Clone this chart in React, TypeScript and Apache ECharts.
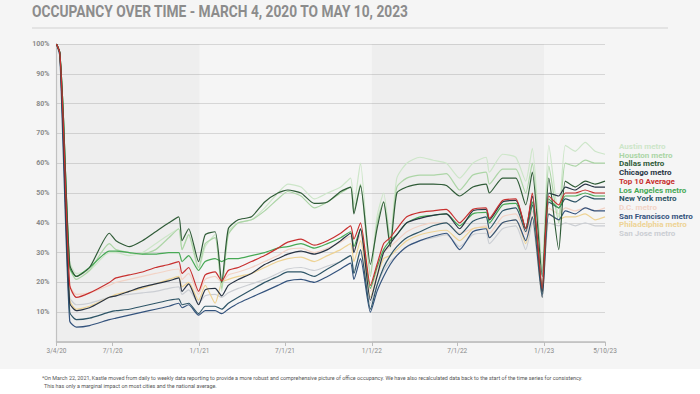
import React, { useEffect, useRef } from "react";
import * as echarts from "echarts";

const TITLE = "OCCUPANCY OVER TIME - MARCH 4, 2020 TO MAY 10, 2023";
const FOOT1 =
  "*On March 22, 2021, Kastle moved from daily to weekly data reporting to provide a more robust and comprehensive picture of office occupancy. We have also recalculated data back to the start of the time series for consistency.";
const FOOT2 = "This has only a marginal impact on most cities and the national average.";

const dates = [
  "2020-03-04", "2020-03-11", "2020-03-18", "2020-04-01", "2020-04-15", "2020-05-13", "2020-06-24",
  "2020-07-08", "2020-08-05", "2020-09-02", "2020-09-30", "2020-10-28", "2020-11-18", "2020-11-25",
  "2020-12-09", "2020-12-30", "2021-01-13", "2021-02-03", "2021-02-17", "2021-03-03", "2021-03-24",
  "2021-04-21", "2021-05-19", "2021-06-16", "2021-07-07", "2021-08-04", "2021-09-01", "2021-09-29",
  "2021-10-27", "2021-11-17", "2021-11-24", "2021-12-08", "2021-12-29", "2022-01-12", "2022-01-26",
  "2022-02-09", "2022-02-23", "2022-03-16", "2022-04-13", "2022-05-11", "2022-06-08", "2022-07-06",
  "2022-08-03", "2022-08-31", "2022-09-07", "2022-10-05", "2022-11-02", "2022-11-23", "2022-12-07",
  "2022-12-28", "2023-01-11", "2023-02-01", "2023-02-15", "2023-03-08", "2023-03-29", "2023-04-19",
  "2023-05-10",
];

const xTickDates = ["2020-03-04", "2020-07-01", "2021-01-01", "2021-07-01", "2022-01-01", "2022-07-01", "2023-01-01", "2023-05-10"];

const austin = [100, 97, 78, 27, 23, 24, 30, 30, 29, 30, 33, 36, 38, 31, 36, 24, 32, 36, 17, 37, 40, 41, 45, 50, 53, 52, 48, 50, 52, 55, 46, 60, 23, 42, 50, 35, 55, 60, 62, 61, 60, 55, 60, 62, 57, 63, 62, 54, 65, 25, 66, 42, 66, 64, 67, 64, 63];
const houston = [100, 97, 78, 25, 21, 24, 33, 31, 30, 29.5, 31, 35, 38, 31, 36, 25, 33, 35, 18, 36, 40, 41, 44, 48, 50.5, 49, 45, 47, 50, 52, 44, 53, 22, 40, 47, 34, 52, 55, 56, 56, 56.5, 51, 56, 57, 53, 58, 58, 50, 60, 24, 59, 40, 60, 59, 61, 60, 60];
const dallas = [100, 97, 78, 26, 22, 25, 36.5, 34, 32, 34, 37, 40, 42, 34, 38, 27, 36, 37, 20, 38, 41, 42, 47, 50, 51, 50, 46.5, 47, 50.5, 52, 43, 52.5, 26, 38, 47, 32, 50, 52, 53, 53, 52.5, 49, 52, 53, 50, 55, 55, 46, 57, 22, 55, 31, 54, 52, 54, 53, 54];
const chicago = [100, 97, 72, 13, 10.5, 11.5, 15, 15.5, 17, 18.5, 19.5, 20.5, 21.5, 17, 19.5, 12.5, 17.5, 18, 15.5, 19, 21, 23, 26, 28, 29.5, 30.5, 29.5, 31, 34, 36.5, 30, 38, 14, 22, 30, 33, 36, 40, 41.5, 42.5, 43, 38, 44, 44.5, 41, 47, 47.5, 38, 49, 17, 50, 49, 52, 51, 53, 52, 52];
const top10 = [100, 97, 75, 19, 15, 16.5, 20, 21.5, 22.5, 23.5, 25, 26, 27, 23, 25, 17, 22.5, 23.5, 20.5, 24, 25, 27, 29, 31.5, 33.5, 34.5, 32.5, 34, 36.5, 39, 34.5, 40, 19, 26, 33, 35, 38, 42, 43.5, 44, 44.5, 40, 44.5, 45, 41.5, 47.5, 48, 38, 50, 18, 49, 46, 50, 50, 51, 50, 50];
const losAngeles = [100, 97, 78, 25, 22, 25, 30.5, 30.5, 30, 29.5, 29.5, 30, 30, 27, 29, 24, 27, 28, 27, 28, 28, 29, 30, 31.5, 32, 33, 31.5, 33, 35, 37, 32, 38, 18, 25, 31, 34, 36, 40, 42, 42.5, 43, 39, 43, 43.5, 40, 46, 46.5, 38, 47, 18, 48, 45, 49, 49, 50, 49, 49];
const newYork = [100, 97, 70, 10, 7.5, 8, 10, 10.5, 11, 12, 13, 14, 14.5, 12.5, 13, 9.5, 12, 12, 11, 13, 15, 17.5, 20, 22, 23.5, 23.5, 22, 24.5, 27, 29, 23, 31, 11, 19, 25, 29, 32, 35, 37, 39, 40, 36, 40.5, 42, 38, 44, 45, 37, 46, 16, 47, 45, 48, 47, 49, 48, 48];
const dc = [100, 97, 74, 19, 16, 16.5, 19, 20, 21, 22, 23, 24, 24.5, 21, 23, 16, 21, 22, 20, 22.5, 23.5, 25, 27, 29, 31, 31.5, 30, 31.5, 33.5, 35.5, 31, 36, 17, 24, 30, 32, 34, 37, 39, 40, 40, 36.5, 38, 39, 36.5, 42, 43, 36, 44, 17, 45, 43, 45, 44, 45, 44, 45];
const sanFrancisco = [100, 96, 65, 7, 5, 5.5, 7.5, 8, 9, 10, 11, 12, 13, 11.5, 12.5, 9, 10.5, 10.5, 9.5, 11, 13, 15, 17, 19, 20.5, 21, 20, 22, 24.5, 26.5, 21, 28, 10, 17, 22, 26, 29, 32, 34, 35.5, 36.5, 31, 37, 38, 35, 40, 41, 34, 42, 15, 43, 41, 44, 43, 45, 44, 44];
const philadelphia = [100, 97, 72, 14, 11, 12, 15, 16, 17, 18, 19.5, 21, 22, 18.5, 20, 14, 19, 13, 20, 21, 22, 23, 25, 27, 28, 28.5, 27, 29, 31, 33, 27, 34, 15, 22, 28, 29, 31, 34, 36, 37, 37.5, 34, 38, 38.5, 35, 40, 41, 33, 42, 15, 43, 41, 42, 42, 43, 41, 42];
const sanJose = [100, 97, 70, 15, 12.5, 13, 15, 15.5, 16, 16.5, 17, 18, 18.5, 16, 17.5, 13, 15.5, 16, 15, 16.5, 18, 19.5, 21, 23, 24.5, 25, 24, 25.5, 27, 29, 24, 30, 13, 19, 24, 27, 29, 32, 34, 35, 36, 32, 36, 36.5, 33, 38, 39, 31, 40, 15, 40, 39, 40, 39, 40, 39, 39];

const legendOrder = [
  "Austin metro", "Houston metro", "Dallas metro", "Chicago metro", "Top 10 Average", "Los Angeles metro",
  "New York metro", "D.C. metro", "San Francisco metro", "Philadelphia metro", "San Jose metro",
];

const COLORS: Record<string, string> = {
  "Austin metro": "#cde6c9",
  "Houston metro": "#acd5a6",
  "Dallas metro": "#2f5b37",
  "Chicago metro": "#283444",
  "Top 10 Average": "#c8302f",
  "Los Angeles metro": "#47a955",
  "New York metro": "#2e5567",
  "D.C. metro": "#f2d3c6",
  "San Francisco metro": "#34537d",
  "Philadelphia metro": "#eed394",
  "San Jose metro": "#cbced3",
};

// drawing order (bottom to top)
const drawOrder: [string, number[]][] = [
  ["San Jose metro", sanJose],
  ["D.C. metro", dc],
  ["Philadelphia metro", philadelphia],
  ["Austin metro", austin],
  ["Houston metro", houston],
  ["San Francisco metro", sanFrancisco],
  ["New York metro", newYork],
  ["Los Angeles metro", losAngeles],
  ["Chicago metro", chicago],
  ["Dallas metro", dallas],
  ["Top 10 Average", top10],
];

const DAY = 86400000;
function ts(d: string) {
  const [y, m, dd] = d.split("-").map(Number);
  return Date.UTC(y, m - 1, dd);
}
const START = ts(dates[0]);
function dayNum(d: string) {
  return Math.round((ts(d) - START) / DAY);
}
function fmt(v: number) {
  const d = new Date(START + Math.round(v) * DAY);
  return `${d.getUTCMonth() + 1}/${d.getUTCDate()}/${String(d.getUTCFullYear()).slice(2)}`;
}

export default function App() {
  const ref = useRef<HTMLDivElement>(null);
  useEffect(() => {
    document.body.style.margin = "0";
    const chart = echarts.init(ref.current!, null, { renderer: "svg" });
    const xTicks = xTickDates.map(dayNum);
    const series: any[] = drawOrder.map(([name, vals], i) => ({
      name,
      type: "line",
      data: dates.map((d, k) => [dayNum(d), vals[k]]),
      showSymbol: false,
      smooth: 0.2,
      color: COLORS[name],
      lineStyle: { width: 1.2, color: COLORS[name] },
      emphasis: { disabled: true },
      z: 2 + i,
      ...(i === 0
        ? {
            markArea: {
              silent: true,
              label: { show: false },
              itemStyle: { color: "rgba(0,0,0,0.028)" },
              data: [
                [{ xAxis: dayNum("2020-03-04") }, { xAxis: dayNum("2021-01-01") }],
                [{ xAxis: dayNum("2022-01-01") }, { xAxis: dayNum("2023-01-01") }],
              ],
            },
          }
        : {}),
    }));

    chart.setOption({
      animation: false,
      backgroundColor: "#f5f5f5",
      textStyle: { fontFamily: "Roboto" },
      grid: { left: 56.5, right: 95, top: 44, bottom: 52, containLabel: false },
      xAxis: {
        type: "value",
        min: 0,
        max: dayNum("2023-05-10"),
        splitLine: { show: false },
        axisLine: { lineStyle: { color: "#bdbdbd", width: 1.5 } },
        axisTick: { show: true, length: 4, customValues: xTicks, lineStyle: { color: "#bdbdbd" } },
        axisLabel: {
          customValues: xTicks,
          formatter: (v: number) => fmt(v),
          fontSize: 6.5,
          color: "#8a8a8a",
          margin: 5,
          showMinLabel: true,
          showMaxLabel: true,
        },
      },
      yAxis: {
        type: "value",
        min: 0,
        max: 100,
        interval: 10,
        axisLine: { show: true, lineStyle: { color: "#c4c4c4", width: 1.2 } },
        axisTick: { show: false },
        splitLine: { lineStyle: { color: "#d6d6d6", width: 1.2 } },
        axisLabel: {
          formatter: (v: number) => (v === 0 ? "" : `${v}%`),
          fontSize: 7,
          fontWeight: "bold",
          color: "#8a8a8a",
          margin: 7,
        },
      },
      legend: {
        orient: "vertical",
        left: 609,
        top: 137,
        icon: "none",
        itemWidth: 0,
        itemHeight: 9,
        itemGap: 0.2,
        selectedMode: false,
        textStyle: { fontSize: 8, fontWeight: "bold", fontFamily: "Roboto" },
        data: legendOrder.map((name) => ({ name, textStyle: { color: COLORS[name] } })),
      },
      graphic: [
        {
          type: "text",
          x: 32,
          y: 4,
          scaleX: 0.86,
          style: { text: TITLE, fontSize: 16, fontWeight: "bold", fontFamily: "Roboto", fill: "#8c8c8c" },
        },
        {
          type: "line",
          shape: { x1: 32, y1: 28, x2: 668, y2: 28 },
          style: { stroke: "#dcdcdc", lineWidth: 1.5 },
        },
        {
          type: "rect",
          shape: { x: 0, y: 369, width: 700, height: 25 },
          style: { fill: "#ffffff" },
        },
        {
          type: "text",
          x: 42,
          y: 375.5,
          style: { text: FOOT1, fontSize: 5.4, fontFamily: "Roboto", fill: "#555555" },
        },
        {
          type: "text",
          x: 44,
          y: 383,
          style: { text: FOOT2, fontSize: 5.4, fontFamily: "Roboto", fill: "#555555" },
        },
      ],
      series,
    });
    return () => chart.dispose();
  }, []);
  return <div ref={ref} style={{ position: "absolute", left: 0, top: 0, width: 700, height: 394 }} />;
}
